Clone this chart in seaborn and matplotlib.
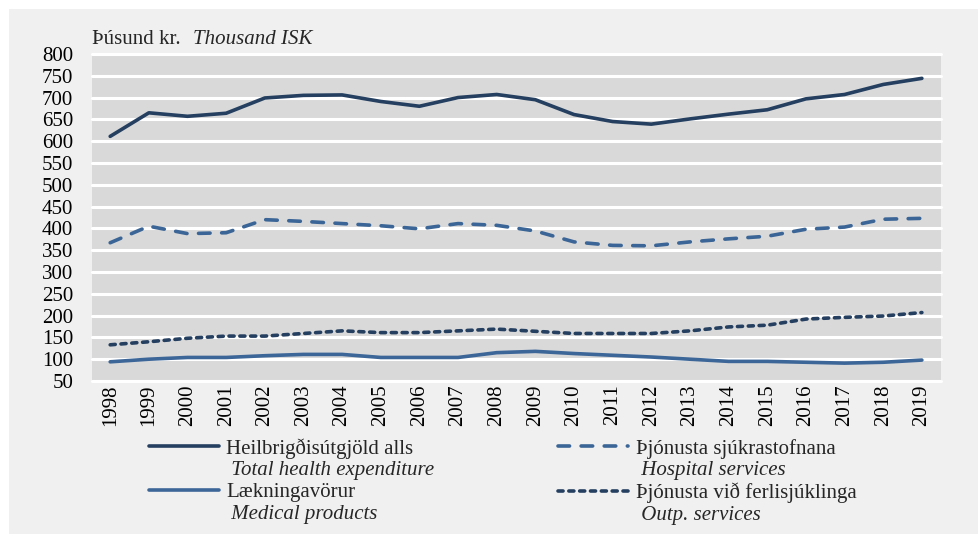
import numpy as np
import pandas as pd
import matplotlib.pyplot as plt
import seaborn as sns
from matplotlib.lines import Line2D
from matplotlib.patches import Rectangle

# Data (thousand ISK per capita)
years = list(range(1998, 2020))
total = [611, 665, 657, 664, 699, 705, 706, 691, 680, 700, 707, 695,
         661, 645, 639, 651, 662, 672, 697, 707, 730, 744]
hospital = [367, 405, 388, 390, 420, 416, 411, 406, 399, 411, 407, 394,
            369, 361, 360, 369, 376, 382, 398, 403, 421, 423]
medical = [94, 100, 104, 104, 108, 111, 111, 104, 104, 104, 115, 118,
           113, 109, 105, 100, 95, 95, 93, 91, 93, 98]
outpatient = [133, 140, 148, 153, 153, 159, 165, 161, 161, 165, 169, 164,
              159, 159, 159, 165, 174, 178, 192, 196, 199, 207]
y_ticks = list(range(50, 801, 50))

labels_is = ['Heilbrigðisútgjöld alls', 'Þjónusta sjúkrastofnana',
             'Lækningavörur', 'Þjónusta við ferlisjúklinga']
labels_en = ['Total health expenditure', 'Hospital services',
             'Medical products', 'Outp. services']

df = pd.DataFrame({'year': years, 'total': total, 'hospital': hospital,
                   'medical': medical, 'outpatient': outpatient})

sns.set_style('darkgrid', {'axes.facecolor': '#d9d9d9', 'grid.color': 'white'})
plt.rcParams['font.family'] = 'serif'
plt.rcParams['font.serif'] = ['Liberation Serif', 'DejaVu Serif']

fig = plt.figure(figsize=(9.79, 5.34), dpi=100, facecolor='white')
fig.patches.append(Rectangle((9 / 979, 0), 1, 1 - 9 / 534, transform=fig.transFigure,
                             facecolor='#f0f0f0', edgecolor='none', zorder=-1))
ax = fig.add_axes([0.094, 0.2865, 0.867, 0.6125])

styles = {
    'total': dict(color='#243f60', linestyle='-'),
    'hospital': dict(color='#3a6596', linestyle=(0, (3.2, 3.2)), dash_capstyle='round'),
    'medical': dict(color='#3c6698', linestyle='-'),
    'outpatient': dict(color='#243f60', linestyle=(0, (1.4, 1.6)), dash_capstyle='round'),
}
for key in ['total', 'hospital', 'medical', 'outpatient']:
    sns.lineplot(data=df, x='year', y=key, ax=ax, linewidth=2.6, **styles[key])

ax.set_xlim(1997.53, 2019.49)
ax.set_ylim(50, 800)
ax.set_xticks(years)
ax.set_xticklabels([str(y) for y in years], rotation=90)
ax.set_yticks(y_ticks)
ax.tick_params(axis='y', length=0, pad=13.5, labelsize=15, colors='black')
ax.tick_params(axis='x', length=0, pad=2.5, labelsize=15, colors='black')
ax.grid(axis='x', visible=False)
ax.grid(axis='y', color='white', linewidth=2.2)
for gl in ax.get_ygridlines():
    gl.set_clip_on(False)
ax.set_xlabel('')
ax.set_ylabel('')
for s in ax.spines.values():
    s.set_visible(False)

fig.text(92 / 979, 1 - 44 / 534, 'Þúsund kr.', fontsize=15, va='baseline')
fig.text(193 / 979, 1 - 44 / 534, 'Thousand ISK', fontsize=15, style='italic', va='baseline')

# Legend: Icelandic label with English italic line beneath
lines = ax.get_lines()
blank = Line2D([], [], color='none')
handles = [lines[0], blank, lines[2], blank, lines[1], blank, lines[3], blank]
leg_labels = [labels_is[0], ' ' + labels_en[0], labels_is[2], ' ' + labels_en[2],
              labels_is[1], ' ' + labels_en[1], labels_is[3], ' ' + labels_en[3]]
leg = fig.legend(handles, leg_labels, ncol=2, loc='upper left',
                 bbox_to_anchor=(149 / 979, 1 - 438 / 534), frameon=False,
                 fontsize=15, handlelength=3.37, handletextpad=0.35,
                 columnspacing=5.93, labelspacing=0.1, borderpad=0, borderaxespad=0)
for i, t in enumerate(leg.get_texts()):
    if i % 2 == 1:
        t.set_style('italic')

fig.savefig('out.png', dpi=100, facecolor=fig.get_facecolor())
